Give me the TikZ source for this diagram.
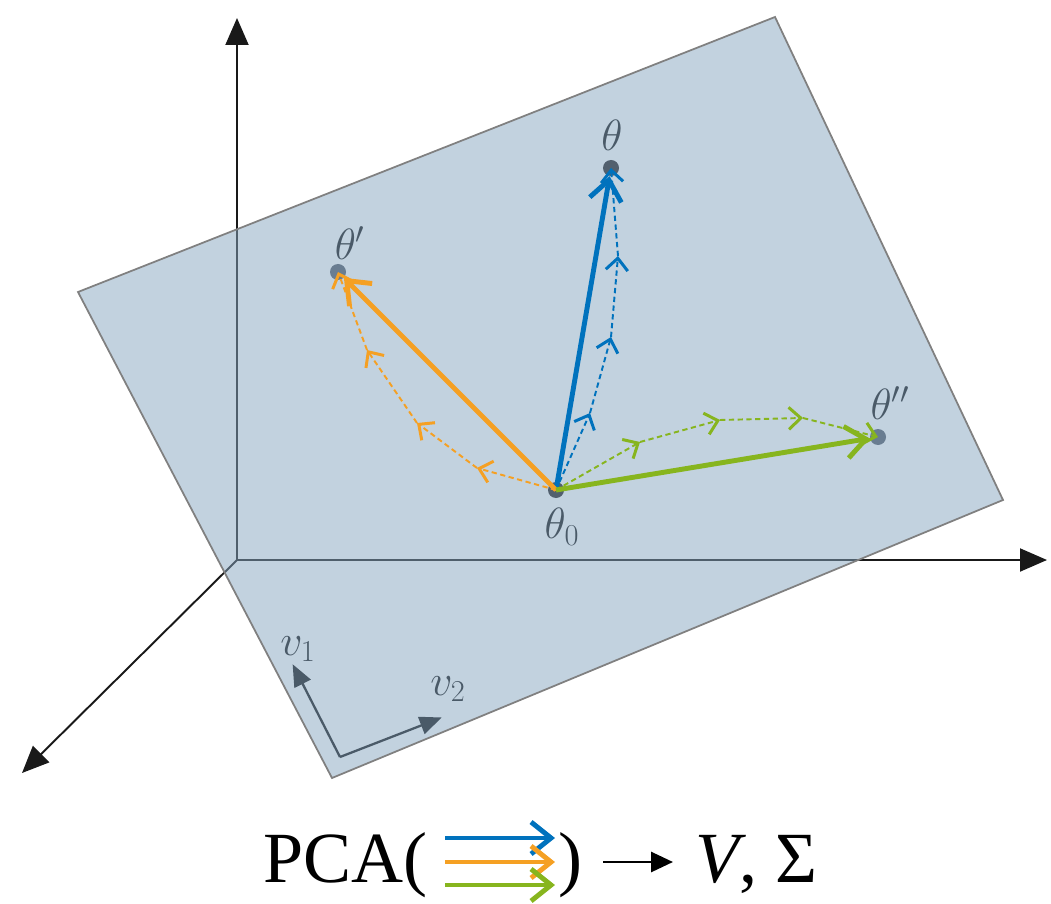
\documentclass[tikz,border=0pt]{standalone}
\usepackage{fontspec}
\newfontfamily\capfont{Liberation Serif}
\usepackage{tikz}
\usetikzlibrary{arrows.meta}

\definecolor{pblue}{RGB}{0,114,189}
\definecolor{porange}{RGB}{245,160,35}
\definecolor{pgreen}{RGB}{135,181,30}
\definecolor{planecol}{RGB}{133,165,191}
\definecolor{labelcol}{RGB}{74,90,104}
\definecolor{dotdark}{RGB}{82,96,110}
\definecolor{dotlight}{RGB}{105,125,145}

\begin{document}
\begin{tikzpicture}[
  axis/.style={-{Triangle[length=5.4mm,width=4.6mm]}, line width=1.1pt, draw=black!90},
  plane/.style={draw=black!50, line width=1pt, fill=planecol, fill opacity=0.5},
  pt/.style={circle, fill=#1, inner sep=0pt, minimum size=0.32cm},
  lbl/.style={text=labelcol, font=\fontsize{24}{28}\selectfont, inner sep=0pt},
  jump/.style={-{Straight Barb[length=4mm,width=6.4mm]}, line width=2.8pt, draw=#1},
  hop/.style={-{Straight Barb[length=2.4mm,width=4.4mm,line width=1.7pt]}, dash pattern=on 3pt off 2pt, line width=1.1pt, draw=#1},
  basis/.style={-{Triangle[length=4.4mm,width=3.6mm]}, line width=1.3pt, draw=labelcol},
  big/.style={font=\capfont\fontsize{41}{48}\selectfont, inner sep=0pt, anchor=base west}
]
  \useasboundingbox (0,0) rectangle (21.02,18.06);

  % axes, then the plane over them
  \coordinate (o) at (4.74,6.86);
  \coordinate (zax) at (4.74,17.7);
  \coordinate (xax) at (20.94,6.86);
  \coordinate (yax) at (0.44,2.6);
  \draw[axis] (o) -- (zax);
  \draw[axis] (o) -- (xax);
  \draw[axis] (o) -- (yax);

  \coordinate (c1) at (1.56,12.22);
  \coordinate (c2) at (15.5,17.72);
  \coordinate (c3) at (20.06,8.06);
  \coordinate (c4) at (6.64,2.5);
  \draw[plane] (c1) -- (c2) -- (c3) -- (c4) -- cycle;

  % points
  \node[pt=dotdark] (t0) at (11.12,8.26) {};
  \node[pt=dotdark] (t) at (12.22,14.7) {};
  \node[pt=dotlight] (tp) at (6.76,12.62) {};
  \node[pt=dotlight] (tpp) at (17.56,9.32) {};

  \node[lbl] (t0lbl) at (11.24,7.52) {$\theta_0$};
  \node[lbl] (tlbl) at (12.24,15.36) {$\theta$};
  \node[lbl] (tplbl) at (7.0,13.2) {$\theta'$};
  \node[lbl] (tpplbl) at (17.8,10.0) {$\theta''$};

  % steps along each run
  \coordinate (b1) at (11.8,9.8);
  \coordinate (b2) at (12.22,11.32);
  \coordinate (b3) at (12.36,12.94);
  \coordinate (r1) at (9.54,8.7);
  \coordinate (r2) at (8.34,9.6);
  \coordinate (r3) at (7.34,11.06);
  \coordinate (g1) at (12.8,9.22);
  \coordinate (g2) at (14.4,9.66);
  \coordinate (g3) at (16.06,9.7);

  \draw[hop=pblue] (t0.center) -- (b1);
  \draw[hop=pblue] (b1) -- (b2);
  \draw[hop=pblue] (b2) -- (b3);
  \draw[hop=pblue] (b3) -- (t.center);
  \draw[hop=porange] (t0.center) -- (r1);
  \draw[hop=porange] (r1) -- (r2);
  \draw[hop=porange] (r2) -- (r3);
  \draw[hop=porange] (r3) -- (tp.center);
  \draw[hop=pgreen] (t0.center) -- (g1);
  \draw[hop=pgreen] (g1) -- (g2);
  \draw[hop=pgreen] (g2) -- (g3);
  \draw[hop=pgreen] (g3) -- (tpp.center);

  \draw[jump=pblue] (t0.center) -- (t);
  \draw[jump=porange] (t0.center) -- (tp);
  \draw[jump=pgreen] (t0.center) -- (tpp);

  % basis of the plane
  \coordinate (vo) at (6.8,2.92);
  \node[inner sep=0pt] (v1tip) at (5.84,4.8) {};
  \node[inner sep=0pt] (v2tip) at (8.86,3.72) {};
  \draw[basis] (vo) -- (v1tip);
  \draw[basis] (vo) -- (v2tip);
  \node[lbl] (v1lbl) at (5.96,5.08) {$v_1$};
  \node[lbl] (v2lbl) at (8.96,4.28) {$v_2$};

  % caption line
  \node[big] (pca) at (5.26,0.42) {PCA(};
  \node[big] (rpar) at (11.16,0.42) {)};
  \node[big] (out) at (13.9,0.42) {\textit{V}, Σ};
  \coordinate (s1) at (8.9,1.3);   \coordinate (e1) at (11.1,1.3);
  \coordinate (s2) at (8.9,0.82);  \coordinate (e2) at (11.1,0.82);
  \coordinate (s3) at (8.9,0.36);  \coordinate (e3) at (11.1,0.36);
  \draw[jump=pblue] (s1) -- (e1);
  \draw[jump=porange] (s2) -- (e2);
  \draw[jump=pgreen] (s3) -- (e3);
  \coordinate (ms) at (12.06,0.82);
  \coordinate (me) at (13.46,0.82);
  \draw[-{Triangle[length=4.4mm,width=4mm]}, line width=1.6pt] (ms) -- (me);
\end{tikzpicture}
\end{document}
